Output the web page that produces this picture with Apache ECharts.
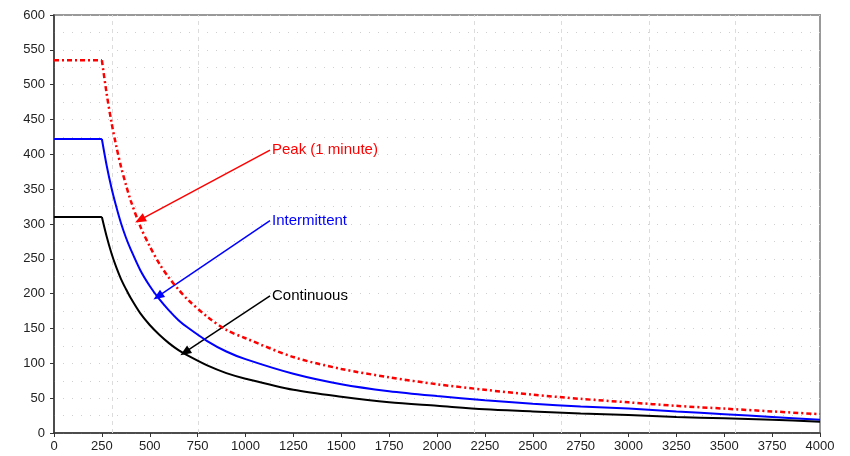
<!DOCTYPE html>
<html>
<head>
<meta charset="utf-8">
<script src="https://cdn.jsdelivr.net/npm/echarts@6/dist/echarts.min.js"></script>
<style>
  html, body { margin: 0; padding: 0; background: #fff; }
  #chart { width: 850px; height: 456px; }
</style>
</head>
<body>
<div id="chart"></div>
<script>
// time values (x) and the three curves
const xValues = [0, 250, 275, 300, 325, 350, 375, 400, 450, 500, 550, 600, 650, 700, 800, 900, 1000,
  1250, 1500, 1750, 2000, 2250, 2500, 2750, 3000, 3250, 3500, 3750, 4000];
const peak = [535, 535, 487, 446, 412, 382, 357, 334, 297, 268, 243, 223, 206, 191, 167, 148, 136,
  109, 92, 80, 70, 62, 55, 49, 44, 39, 35, 31, 27];
const intermittent = [422, 422, 384, 352, 325, 301, 281, 264, 234, 211, 192, 176, 162, 151, 132, 117, 106,
  85, 70, 60, 53, 47, 42, 38, 35, 31, 27, 23, 19];
const continuous = [310, 310, 282, 258, 238, 221, 207, 194, 172, 155, 141, 129, 119, 111, 97, 86, 78,
  62, 52, 44, 39, 34, 31, 28, 26, 23, 21, 19, 16];

// faint vertical dashed lines seen in the plot
const gridX = [302, 752, 2197, 2647, 3107, 3556];

// annotation arrows: label, start, tip
const notes = [
  { name: 'Peak (1 minute)', from: [1128, 406], to: [449, 306] },
  { name: 'Intermittent', from: [1128, 305], to: [543, 196] },
  { name: 'Continuous', from: [1128, 197], to: [684, 116] }
];

const colors = ['#ff0000', '#0000ff', '#000000'];
const font = '"Liberation Sans", Arial, sans-serif';

function pairs(ys) {
  return xValues.map((x, i) => [x, ys[i]]);
}

function noteMarks(i) {
  const n = notes[i];
  return {
    markLine: {
      silent: true,
      symbol: ['none', 'triangle'],
      symbolSize: [9, 11],
      label: { show: false },
      lineStyle: { color: colors[i], width: 1.5, type: 'solid' },
      data: [[{ coord: n.from }, { coord: n.to }]]
    },
    markPoint: {
      silent: true,
      symbol: 'circle',
      symbolSize: 0,
      data: [{
        coord: n.from,
        label: {
          show: true,
          position: 'right',
          distance: 2,
          formatter: n.name,
          color: colors[i],
          fontSize: 15,
          fontFamily: font
        }
      }]
    }
  };
}

const chart = echarts.init(document.getElementById('chart'));

const dotted = { color: '#cfcfcf', width: 1, type: [1, 8] };

// flat part (up to 250) drawn straight, the decay drawn smooth, so the corner stays sharp
function curve(name, ys, i, style) {
  const pts = pairs(ys);
  const ls = Object.assign({ color: colors[i], width: 2 }, style);
  return [
    {
      name: name,
      type: 'line',
      data: pts.slice(0, 2),
      showSymbol: false,
      lineStyle: ls,
      z: 5
    },
    Object.assign({
      name: name,
      type: 'line',
      data: pts.slice(1),
      showSymbol: false,
      smooth: 0.3,
      lineStyle: ls,
      z: 5
    }, noteMarks(i))
  ];
}

chart.setOption({
  animation: false,
  backgroundColor: '#fff',
  grid: {
    left: 54, right: 30, top: 15, bottom: 23,
    show: true, borderColor: '#999', borderWidth: 2, backgroundColor: 'transparent'
  },
  xAxis: {
    type: 'value',
    min: 0, max: 4000, interval: 250,
    axisLine: { show: true, onZero: false, lineStyle: { color: '#333', width: 1.5 } },
    axisTick: { show: true, length: 4, lineStyle: { color: '#333' } },
    axisLabel: { color: '#222', fontSize: 13, fontFamily: font, margin: 7, formatter: v => String(v) },
    splitLine: { show: false }
  },
  yAxis: {
    type: 'value',
    min: 0, max: 600, interval: 50,
    axisLine: { show: true, lineStyle: { color: '#333', width: 1.5 } },
    axisTick: { show: true, length: 4, lineStyle: { color: '#333' } },
    axisLabel: { color: '#222', fontSize: 13, fontFamily: font, margin: 9, formatter: v => String(v) },
    splitLine: { show: true, lineStyle: dotted },
    minorTick: { show: false, splitNumber: 2 },
    minorSplitLine: { show: true, lineStyle: dotted }
  },
  series: [{
    name: 'gridX',
    type: 'line',
    data: [],
    z: 0,
    markLine: {
      silent: true,
      symbol: 'none',
      label: { show: false },
      lineStyle: { color: '#dcdcdc', width: 1, type: [4, 4] },
      data: gridX.map(v => ({ xAxis: v }))
    }
  }].concat(
    curve('Peak (1 minute)', peak, 0, { width: 2.5, type: [5, 3, 2, 3] }),
    curve('Intermittent', intermittent, 1, {}),
    curve('Continuous', continuous, 2, {})
  )
});
</script>
</body>
</html>
